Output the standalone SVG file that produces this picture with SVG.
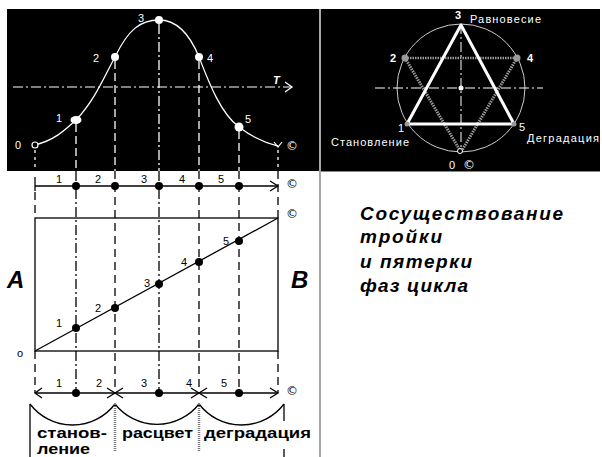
<svg xmlns="http://www.w3.org/2000/svg" width="602" height="457" viewBox="0 0 602 457">
<style>
.wt{fill:#fff;font-family:"Liberation Sans",Arial,sans-serif;font-size:11px}
.bt{fill:#000;font-family:"Liberation Sans",Arial,sans-serif;font-size:11px}
.cp{font-family:"DejaVu Sans",sans-serif;font-size:12px}
.wd{stroke:#fff;stroke-width:1.3;stroke-dasharray:8,4;fill:none}
.bd{stroke:#000;stroke-width:1.3;stroke-dasharray:8,5;fill:none}
.dd{stroke-dasharray:10,3,2,3}
.sd{stroke-dasharray:3,4}
.big{font-family:"Liberation Sans",Arial,sans-serif;font-weight:bold;font-style:italic;fill:#000}
.lab{font-family:"Liberation Sans",Arial,sans-serif;font-weight:bold;font-size:14px;fill:#000}
.wl{stroke:#fff;fill:none}
.bl{stroke:#000;fill:none;stroke-width:1.3}
</style>
<rect width="602" height="457" fill="#fff"/>
<g id="panel-curve">
<rect x="7" y="9" width="312" height="162" fill="#000"/>
<line x1="13" y1="87" x2="292" y2="87" class="wl dd" stroke-width="1.2"/>
<polyline points="285,82 292,87 285,92" class="wl" stroke-width="1.3"/>
<text x="273" y="84" class="wt" font-size="14" font-weight="bold" font-style="italic">T</text>
<line x1="35" y1="150" x2="35" y2="171" class="wd sd"/>
<line x1="76" y1="124" x2="76" y2="171" class="wd"/>
<line x1="115" y1="61" x2="115" y2="171" class="wd"/>
<line x1="159" y1="24" x2="159" y2="171" class="wd dd"/>
<line x1="199" y1="61" x2="199" y2="171" class="wd"/>
<line x1="239" y1="131" x2="239" y2="171" class="wd"/>
<line x1="278" y1="150" x2="278" y2="171" class="wd sd"/>
<path d="M35,145 C55,140 65,130 76,120 C95,100 105,75 115,57 C128,30 140,20 159,20 C178,20 190,35 199,57 C208,80 220,113 239,127 C252,137 265,143 278,146" class="wl" stroke-width="1.3"/>
<circle cx="35" cy="145" r="3" fill="#000" stroke="#fff" stroke-width="1.2"/>
<ellipse cx="76" cy="120" rx="5.5" ry="4" fill="#fff"/>
<circle cx="115" cy="57" r="4" fill="#fff"/>
<circle cx="159" cy="20" r="4" fill="#fff"/>
<circle cx="199" cy="57" r="4" fill="#fff"/>
<circle cx="239" cy="127" r="4.5" fill="#fff"/>
<polyline points="274,142 278,147 282,142" class="wl" stroke-width="1.2"/>
<text x="15" y="149" class="wt">0</text>
<text x="56" y="122" class="wt">1</text>
<text x="93" y="62" class="wt">2</text>
<text x="138" y="22" class="wt">3</text>
<text x="207" y="62" class="wt">4</text>
<text x="245" y="123" class="wt">5</text>
<text x="286" y="150" class="wt cp">©</text>
</g>
<g id="panel-circle">
<rect x="321" y="9" width="279" height="162" fill="#000"/>
<circle cx="461" cy="88" r="64" fill="none" stroke="#ccc" stroke-width="1"/>
<line x1="375" y1="88" x2="543" y2="88" class="wl dd" stroke-width="1.2"/>
<line x1="461" y1="24" x2="461" y2="152" class="wl dd" stroke-width="1"/>
<line x1="405" y1="58" x2="517" y2="58" stroke="#999" stroke-width="2.5" stroke-dasharray="1.5,1"/>
<line x1="405" y1="58" x2="461" y2="152" stroke="#999" stroke-width="3" stroke-dasharray="1.5,1"/>
<line x1="517" y1="58" x2="461" y2="152" stroke="#999" stroke-width="3" stroke-dasharray="1.5,1"/>
<polygon points="461,25 407,124 514,124" fill="none" stroke="#fff" stroke-width="3" stroke-linejoin="round"/>
<circle cx="405" cy="58" r="3.5" fill="#999"/>
<circle cx="517" cy="58" r="3.5" fill="#999"/>
<circle cx="407" cy="124" r="2.5" fill="#999"/>
<circle cx="514" cy="124" r="2.5" fill="#999"/>
<circle cx="461" cy="88" r="2.5" fill="#fff"/>
<circle cx="460" cy="151" r="2.5" fill="#000" stroke="#fff" stroke-width="1"/>
<text x="455" y="19" class="wt" font-size="13" font-weight="bold">3</text>
<text x="470" y="23" class="wt" textLength="71">Равновесие</text>
<text x="390" y="62" class="wt" font-weight="bold">2</text>
<text x="527" y="62" class="wt" font-weight="bold">4</text>
<text x="398" y="132" class="wt">1</text>
<text x="519" y="131" class="wt" font-size="12">5</text>
<text x="331" y="146" class="wt" textLength="78">Становление</text>
<text x="527" y="142" class="wt" textLength="72">Деградация</text>
<text x="449" y="169" class="wt">0</text>
<text x="463" y="169" class="wt cp">©</text>
</g>
<line x1="320" y1="9" x2="320" y2="457" stroke="#888" stroke-width="1.5"/>
<line x1="321" y1="171.5" x2="600" y2="171.5" stroke="#888" stroke-width="1"/>
<g id="connectors">
<line x1="35" y1="192" x2="35" y2="218" class="bd"/>
<line x1="35" y1="351" x2="35" y2="393" class="bd"/>
<line x1="278" y1="171" x2="278" y2="218" class="bd"/>
<line x1="278" y1="351" x2="278" y2="393" class="bd"/>
<line x1="76" y1="171" x2="76" y2="393" class="bd dd"/>
<line x1="115" y1="171" x2="115" y2="393" class="bd"/>
<line x1="159" y1="171" x2="159" y2="393" class="bd dd"/>
<line x1="199" y1="171" x2="199" y2="393" class="bd"/>
<line x1="239" y1="171" x2="239" y2="393" class="bd"/>
</g>
<g id="timeline-top">
<line x1="35" y1="177" x2="35" y2="191" class="bl"/>
<line x1="35" y1="186" x2="278" y2="186" class="bl"/>
<polyline points="270,181 278,186 270,191" class="bl"/>
<circle cx="76" cy="186" r="4" fill="#000"/>
<circle cx="115" cy="186" r="4" fill="#000"/>
<circle cx="159" cy="186" r="4" fill="#000"/>
<circle cx="199" cy="186" r="4" fill="#000"/>
<circle cx="239" cy="186" r="4" fill="#000"/>
<text x="56" y="183" class="bt">1</text>
<text x="95" y="183" class="bt">2</text>
<text x="141" y="183" class="bt">3</text>
<text x="179" y="183" class="bt">4</text>
<text x="218" y="183" class="bt">5</text>
<text x="286" y="188" class="bt cp">©</text>
</g>
<g id="rectangle">
<rect x="35" y="218" width="243" height="133" fill="none" stroke="#000" stroke-width="1.3"/>
<line x1="35" y1="351" x2="278" y2="218" class="bl" stroke-width="1.1"/>
<circle cx="76" cy="328" r="4" fill="#000"/>
<circle cx="115" cy="308" r="4" fill="#000"/>
<circle cx="159" cy="284" r="4" fill="#000"/>
<circle cx="199" cy="262" r="4" fill="#000"/>
<circle cx="239" cy="241" r="4" fill="#000"/>
<text x="56" y="327" class="bt">1</text>
<text x="95" y="312" class="bt">2</text>
<text x="144" y="287" class="bt">3</text>
<text x="181" y="266" class="bt">4</text>
<text x="223" y="245" class="bt">5</text>
<text x="17" y="357" class="bt">o</text>
<text x="286" y="218" class="bt cp">©</text>
<text x="7" y="288" class="big" font-size="24">A</text>
<text x="291" y="288" class="big" font-size="24">B</text>
</g>
<g id="timeline-bottom">
<line x1="35" y1="393" x2="278" y2="393" class="bl"/>
<polyline points="42,388 35,393 42,398" class="bl"/>
<polyline points="107,388 115,393 107,398" class="bl"/>
<polyline points="123,388 115,393 123,398" class="bl"/>
<polyline points="191,388 199,393 191,398" class="bl"/>
<polyline points="207,388 199,393 207,398" class="bl"/>
<polyline points="270,388 278,393 270,398" class="bl"/>
<circle cx="76" cy="393" r="4" fill="#000"/>
<circle cx="159" cy="393" r="4" fill="#000"/>
<circle cx="239" cy="393" r="4" fill="#000"/>
<text x="56" y="387" class="bt">1</text>
<text x="96" y="387" class="bt">2</text>
<text x="141" y="387" class="bt">3</text>
<text x="186" y="387" class="bt">4</text>
<text x="221" y="387" class="bt">5</text>
<text x="286" y="395" class="bt cp">©</text>
</g>
<g id="phases">
<path d="M30,404 A53.5,53.5 0 0 0 115,404 A53.5,53.5 0 0 0 199,404 A53.5,53.5 0 0 0 284,404" class="bl"/>
<line x1="30" y1="404" x2="30" y2="457" class="bl"/>
<line x1="115" y1="404" x2="115" y2="452" stroke="#777" stroke-width="2.5" stroke-dasharray="1,1"/>
<line x1="199" y1="404" x2="199" y2="452" stroke="#777" stroke-width="2.5" stroke-dasharray="1,1"/>
<line x1="284" y1="404" x2="284" y2="421" class="bl"/>
<line x1="284" y1="449" x2="284" y2="457" class="bl"/>
<text x="37" y="438" class="lab" textLength="70" lengthAdjust="spacingAndGlyphs">станов-</text>
<text x="37" y="454" class="lab" textLength="53" lengthAdjust="spacingAndGlyphs">ление</text>
<text x="122" y="438" class="lab" textLength="71" lengthAdjust="spacingAndGlyphs">расцвет</text>
<text x="204" y="438" class="lab" textLength="107" lengthAdjust="spacingAndGlyphs">деградация</text>
</g>
<g id="caption">
<text x="360" y="220" class="big" font-size="19" textLength="203">Сосуществование</text>
<text x="360" y="243" class="big" font-size="19" textLength="82">тройки</text>
<text x="360" y="268" class="big" font-size="19" textLength="112">и пятерки</text>
<text x="360" y="292" class="big" font-size="19" textLength="108">фаз цикла</text>
</g>
</svg>
